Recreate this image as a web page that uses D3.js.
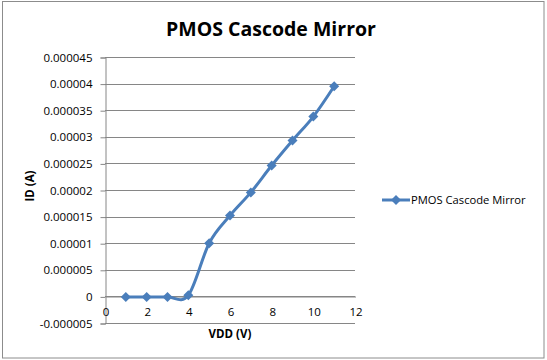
<!DOCTYPE html>
<html><head><meta charset="utf-8">
<script src="https://cdn.jsdelivr.net/npm/d3@7"></script>
<style>html,body{margin:0;padding:0;background:#fff;}svg{display:block;}</style>
</head><body>
<svg id="c" width="547" height="360"></svg>
<script>
const title = "PMOS Cascode Mirror";
const seriesName = "PMOS Cascode Mirror";
const xTitle = "VDD (V)";
const yTitle = "ID (A)";
const vdd = [1, 2, 3, 4, 5, 6, 7, 8, 9, 10, 11];
const id = [-0.0000001, -0.0000001, -0.0000001, 0.0000002, 0.00001, 0.0000152, 0.00001955, 0.0000246, 0.0000293, 0.0000338, 0.0000395];
const xTicks = [0, 2, 4, 6, 8, 10, 12];
const yTicks = [-0.000005, 0, 0.000005, 0.00001, 0.000015, 0.00002, 0.000025, 0.00003, 0.000035, 0.00004, 0.000045];
const yTickLabels = ["-0.000005", "0", "0.000005", "0.00001", "0.000015", "0.00002", "0.000025", "0.00003", "0.000035", "0.00004", "0.000045"];

const svg = d3.select("#c");
const font = "'Open Sans', sans-serif";
const blue = "#4A7EBB";
const grid = "#868686";

const x = d3.scaleLinear().domain([0, 12]).range([105, 355]);
const y = d3.scaleLinear().domain([-0.000005, 0.000045]).range([323, 57]);

// chart border
svg.append("rect").attr("x", 2.5).attr("y", 1.5).attr("width", 541.5).attr("height", 356.5)
  .attr("fill", "#fff").attr("stroke", "#8c8c8c").attr("stroke-width", 1);

// gridlines
svg.append("g").selectAll("line").data(yTicks).join("line")
  .attr("x1", x(0)).attr("x2", x(12))
  .attr("y1", d => Math.round(y(d)) + 0.5).attr("y2", d => Math.round(y(d)) + 0.5)
  .attr("stroke", grid).attr("stroke-width", 1);

// y axis
const yAxis = d3.axisLeft(y).tickValues(yTicks).tickSize(5).tickPadding(8)
  .tickFormat((d, i) => yTickLabels[i]);
const gy = svg.append("g").attr("transform", `translate(${x(0) + 0.5},0.5)`).call(yAxis);
gy.select(".domain").attr("stroke", grid);
gy.selectAll(".tick line").attr("stroke", grid);
gy.selectAll("text").attr("font-family", font).attr("font-size", 11.5).attr("fill", "#000");

// x axis at zero
const xAxis = d3.axisBottom(x).tickValues(xTicks).tickSize(0).tickPadding(11).tickFormat(d3.format("d"));
const gx = svg.append("g").attr("transform", `translate(0.5,${Math.round(y(0)) + 0.5})`).call(xAxis);
gx.select(".domain").attr("stroke", grid);
gx.selectAll("text").attr("font-family", font).attr("font-size", 11.5).attr("fill", "#000");

// line
const pts = vdd.map((v, i) => [v, id[i]]);
const line = d3.line().x(d => x(d[0])).y(d => y(d[1])).curve(d3.curveCardinal.tension(0));
svg.append("path").datum(pts).attr("d", line).attr("fill", "none")
  .attr("stroke", blue).attr("stroke-width", 3).attr("stroke-linejoin", "round");

const diamond = d3.symbol().type(d3.symbolDiamond2).size(64);
svg.append("g").selectAll("path").data(pts).join("path")
  .attr("transform", d => `translate(${x(d[0])},${y(d[1])})`)
  .attr("d", diamond).attr("fill", blue);

// titles
svg.append("text").attr("x", 271).attr("y", 36).attr("text-anchor", "middle")
  .attr("font-family", font).attr("font-weight", "bold").attr("font-size", 19.5).text(title);
svg.append("text").attr("x", 230).attr("y", 338).attr("text-anchor", "middle")
  .attr("font-family", font).attr("font-weight", "bold").attr("font-size", 11.5).text(xTitle);
svg.append("text").attr("transform", "translate(34,186) rotate(-90)").attr("text-anchor", "middle")
  .attr("font-family", font).attr("font-weight", "bold").attr("font-size", 11.5).text(yTitle);

// legend
const lg = svg.append("g");
lg.append("line").attr("x1", 382).attr("x2", 410).attr("y1", 200).attr("y2", 200)
  .attr("stroke", blue).attr("stroke-width", 3);
lg.append("path").attr("transform", "translate(396,200)").attr("d", diamond).attr("fill", blue);
lg.append("text").attr("x", 411).attr("y", 204).attr("font-family", font).attr("font-size", 11.2)
  .text(seriesName);
</script>
</body></html>
